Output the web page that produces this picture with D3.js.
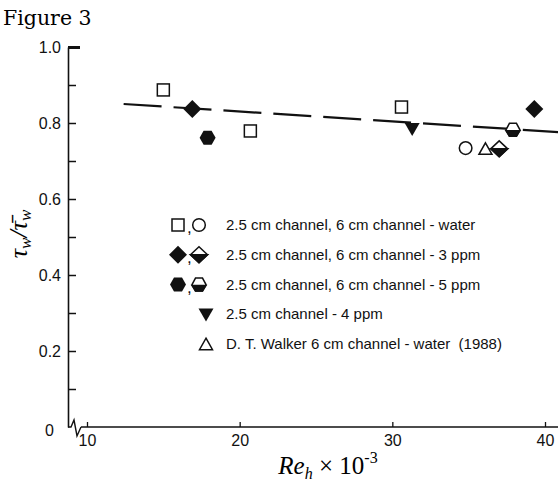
<!DOCTYPE html>
<html>
<head>
<meta charset="utf-8">
<script src="https://cdn.jsdelivr.net/npm/d3@7"></script>
<style>
body{margin:0;background:#fff;}
svg{display:block;}
.tick text{font-family:"Liberation Sans",Arial,sans-serif;font-size:16px;fill:#111;}
.leg text{font-family:"Liberation Sans",Arial,sans-serif;font-size:15px;fill:#111;white-space:pre;}
</style>
</head>
<body>
<div id="root"></div>
<script>
// data: [Re_h x 10^-3, tau_w / mean tau_w]
var squareWater=[[15.0,0.887],[20.7,0.779],[30.6,0.842]];
var circleWater=[[34.8,0.734]];
var diamond3=[[16.9,0.837],[39.3,0.837]];
var halfDiamond3=[[37.0,0.732]];
var hex5=[[17.9,0.761]];
var halfHex5=[[37.9,0.782]];
var triDown4=[[31.3,0.784]];
var walker=[[36.1,0.732]];
var fitLine=[[12.4,0.850],[40.9,0.776]];

var xTicks=[10,20,30,40];
var yTicks=[0,0.1,0.2,0.3,0.4,0.5,0.6,0.7,0.8,0.9,1.0];
var yLabels={'0':'0','0.2':'0.2','0.4':'0.4','0.6':'0.6','0.8':'0.8','1':'1.0'};

var legendRows=[
  {m:['square','circle'],t:'2.5 cm channel, 6 cm channel - water'},
  {m:['diamond','halfDiamond'],t:'2.5 cm channel, 6 cm channel - 3 ppm'},
  {m:['hex','halfHex'],t:'2.5 cm channel, 6 cm channel - 5 ppm'},
  {m:['triDown'],t:'2.5 cm channel - 4 ppm'},
  {m:['triUp'],t:'D. T. Walker 6 cm channel - water  (1988)'}
];

var W=558,H=483;
var svg=d3.select('#root').append('svg').attr('width',W).attr('height',H);

var x=d3.scaleLinear().domain([10,40]).range([87,545]);
var y=d3.scaleLinear().domain([0,1]).range([427,47]);

// title
svg.append('text').attr('x',3).attr('y',25)
  .style('font-family','"DejaVu Serif","Liberation Serif",serif').style('font-size','20.5px')
  .text('Figure 3');

// y axis, ticks inward
var yAxis=d3.axisLeft(y).tickValues(yTicks).tickSizeInner(-8).tickSizeOuter(0).tickPadding(7)
  .tickFormat(function(d){var k=String(+d.toFixed(1));return yLabels[k]||'';});
var gy=svg.append('g').attr('transform','translate(68,0)').call(yAxis);
gy.select('.domain').attr('stroke','#111').attr('stroke-width',1.6);
gy.selectAll('.tick line').attr('stroke','#111').attr('stroke-width',1.5);
gy.selectAll('.tick').filter(function(d){return d===1;}).select('line').attr('x2',12).attr('stroke-width',3);
gy.selectAll('.tick').filter(function(d){return d===0;}).select('line').remove();
gy.selectAll('.tick').filter(function(d){return d===0;}).select('text').attr('x',-14).attr('dy','0.55em');

// x axis, ticks inward
var xAxis=d3.axisBottom(x).tickValues(xTicks).tickSizeInner(-5).tickSizeOuter(0).tickPadding(5);
var gx=svg.append('g').attr('transform','translate(0,427)').call(xAxis);
gx.select('.domain').remove();
gx.selectAll('.tick line').attr('stroke','#111').attr('stroke-width',1.3);
gx.selectAll('.tick text').attr('dy','0.9em');
gx.append('line').attr('x1',81).attr('x2',W).attr('y1',0).attr('y2',0).attr('stroke','#111').attr('stroke-width',1.5);

// axis break
svg.append('path').attr('d','M68,427 L71,427 L74,420 L77,436 L81,427')
  .attr('fill','none').attr('stroke','#111').attr('stroke-width',1.4);

// axis titles
var yt=svg.append('text').attr('transform','translate(27,234) rotate(-90)').attr('text-anchor','middle')
  .style('font-family','"Liberation Serif","DejaVu Serif",serif').style('font-size','26px').style('font-style','italic');
yt.append('tspan').text('τ');
yt.append('tspan').attr('dy',4).style('font-size','17px').text('w');
yt.append('tspan').attr('dy',-4).text('/');
yt.append('tspan').text('τ\u0304');
yt.append('tspan').attr('dy',4).style('font-size','17px').text('w');

var xt=svg.append('text').attr('x',328).attr('y',474).attr('text-anchor','middle')
  .style('font-family','"Liberation Serif","DejaVu Serif",serif').style('font-size','25px');
xt.append('tspan').style('font-style','italic').text('Re');
xt.append('tspan').attr('dy',5).style('font-style','italic').style('font-size','16px').text('h');
xt.append('tspan').attr('dy',-5).text(' × 10');
xt.append('tspan').attr('dy',-11).style('font-size','16px').text('-3');

// fitted dashed line
var line=d3.line().x(function(d){return x(d[0]);}).y(function(d){return y(d[1]);});
svg.append('path').datum(fitLine).attr('d',line).attr('fill','none')
  .attr('stroke','#111').attr('stroke-width',2.2).attr('stroke-dasharray','38,12');

// marker drawing
function marker(g,type){
  var s='#111';
  if(type==='square'){
    g.append('rect').attr('x',-6).attr('y',-6).attr('width',12).attr('height',12)
      .attr('fill','#fff').attr('stroke',s).attr('stroke-width',1.5);
  }else if(type==='circle'){
    g.append('circle').attr('r',6.3).attr('fill','#fff').attr('stroke',s).attr('stroke-width',1.5);
  }else if(type==='diamond'){
    g.append('path').attr('d','M0,-9L9,0L0,9L-9,0Z').attr('fill',s);
  }else if(type==='halfDiamond'){
    g.append('path').attr('d','M0,-8L8.5,0L0,8L-8.5,0Z').attr('fill','#fff').attr('stroke',s).attr('stroke-width',1.5);
    g.append('path').attr('d','M-8.5,0L8.5,0L0,8Z').attr('fill',s).attr('stroke',s).attr('stroke-width',1.5);
  }else if(type==='hex'){
    g.append('path').attr('d','M-8,0L-4,-7L4,-7L8,0L4,7L-4,7Z').attr('fill',s);
  }else if(type==='halfHex'){
    g.append('path').attr('d','M-7,0L-3.5,-6.5L3.5,-6.5L7,0L3.5,6.5L-3.5,6.5Z').attr('fill','#fff').attr('stroke',s).attr('stroke-width',1.5);
    g.append('path').attr('d','M-7,1L7,1L3.5,6.5L-3.5,6.5Z').attr('fill',s).attr('stroke',s).attr('stroke-width',1.5);
  }else if(type==='triDown'){
    g.append('path').attr('d','M-7.5,-6L7.5,-6L0,7Z').attr('fill',s);
  }else if(type==='triUp'){
    g.append('path').attr('d','M0,-6L6.5,5.5L-6.5,5.5Z').attr('fill','#fff').attr('stroke',s).attr('stroke-width',1.5);
  }
}

var series=[
  {type:'square',data:squareWater},
  {type:'circle',data:circleWater},
  {type:'diamond',data:diamond3},
  {type:'halfDiamond',data:halfDiamond3},
  {type:'hex',data:hex5},
  {type:'halfHex',data:halfHex5},
  {type:'triDown',data:triDown4},
  {type:'triUp',data:walker}
];
series.forEach(function(sr){
  sr.data.forEach(function(d){
    var g=svg.append('g').attr('transform','translate('+x(d[0])+','+y(d[1])+')');
    marker(g,sr.type);
  });
});

// legend
var leg=svg.append('g').attr('class','leg');
legendRows.forEach(function(r,i){
  var ry=225+i*29.8;
  var row=leg.append('g').attr('transform','translate(0,'+ry+')');
  if(r.m.length===2){
    marker(row.append('g').attr('transform','translate(178,0)'),r.m[0]);
    row.append('text').attr('x',187).attr('y',8).style('font-size','17px').text(',');
    marker(row.append('g').attr('transform','translate(199,0)'),r.m[1]);
  }else{
    marker(row.append('g').attr('transform','translate(206,0)'),r.m[0]);
  }
  row.append('text').attr('x',226).attr('y',5).text(r.t);
});
</script>
</body>
</html>
